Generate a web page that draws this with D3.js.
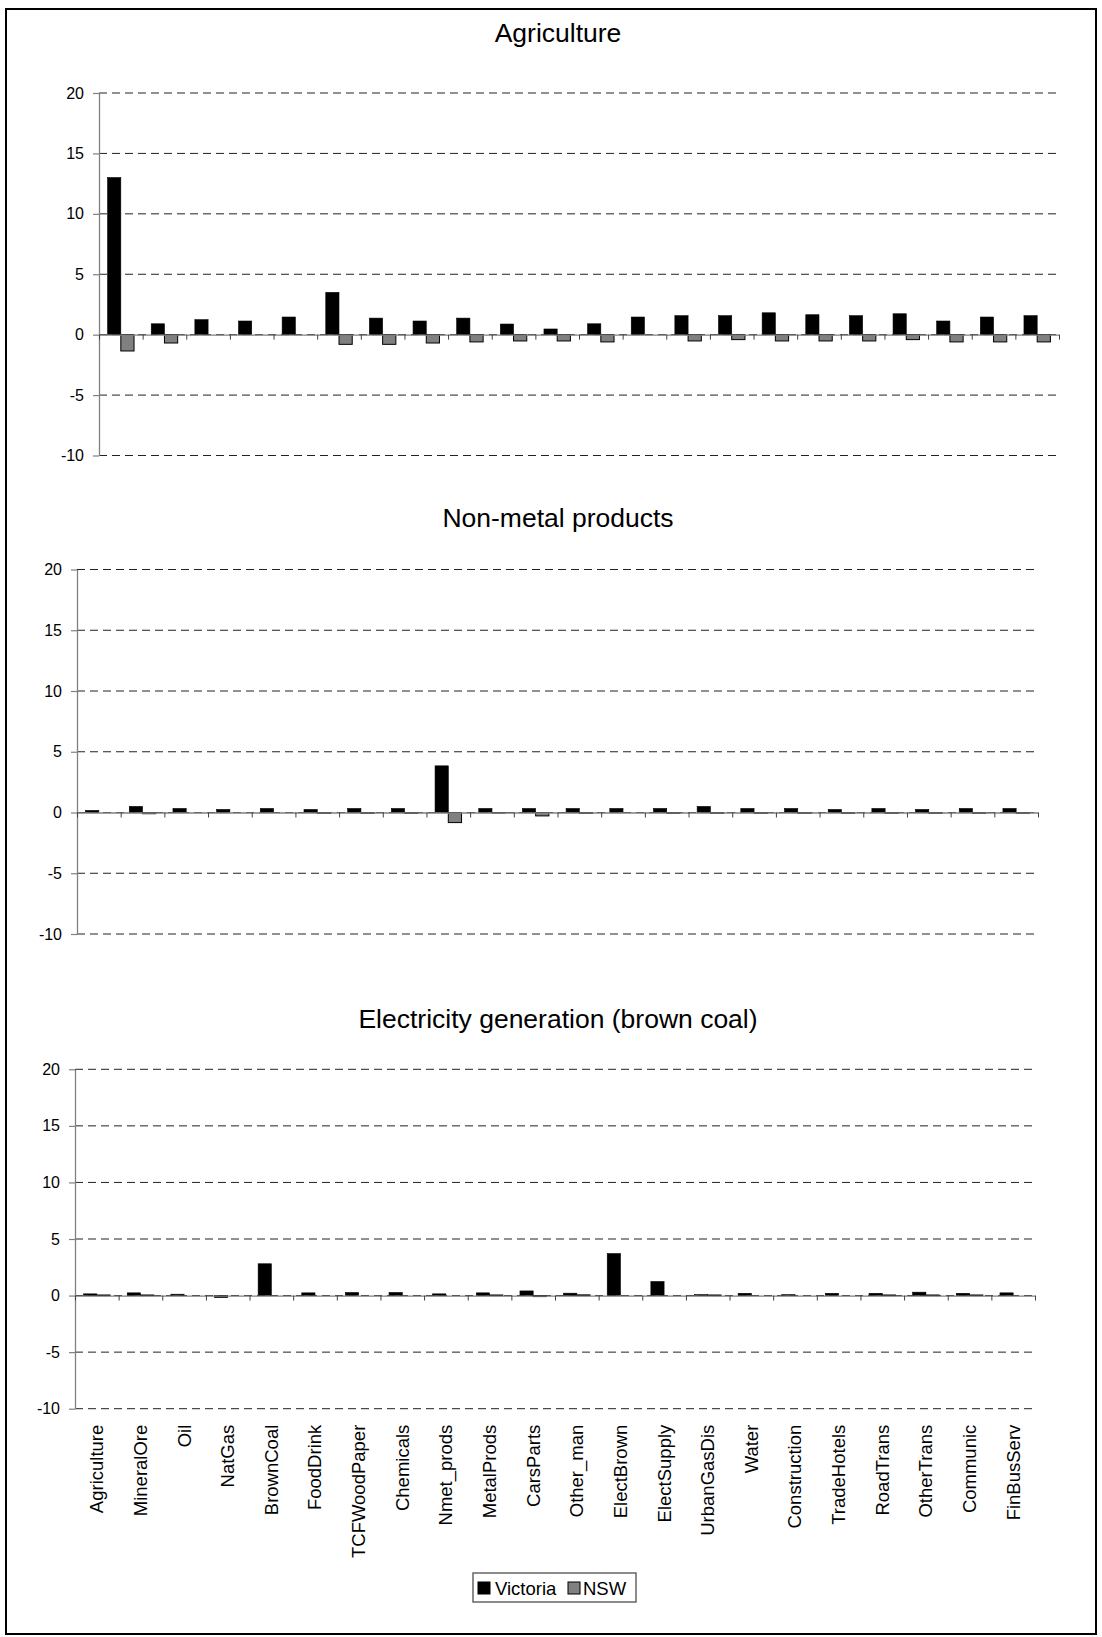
<!DOCTYPE html>
<html><head><meta charset="utf-8">
<script src="https://cdn.jsdelivr.net/npm/d3@7"></script>
<style>
html,body{margin:0;padding:0;background:#fff;}
svg text{font-family:"Liberation Sans",Arial,sans-serif;fill:#000;}
</style></head>
<body>
<svg id="c" width="1102" height="1637"></svg>
<script>
const categories = ["Agriculture","MineralOre","Oil","NatGas","BrownCoal","FoodDrink","TCFWoodPaper","Chemicals","Nmet_prods","MetalProds","CarsParts","Other_man","ElectBrown","ElectSupply","UrbanGasDis","Water","Construction","TradeHotels","RoadTrans","OtherTrans","Communic","FinBusServ"];
const seriesNames = ["Victoria","NSW"];
const titles = ["Agriculture","Non-metal products","Electricity generation (brown coal)"];
const yTicks = [20,15,10,5,0,-5,-10];

const agriVictoria = [13.0,0.9,1.24,1.13,1.46,3.5,1.37,1.13,1.37,0.88,0.47,0.9,1.46,1.57,1.57,1.81,1.65,1.57,1.73,1.13,1.46,1.57];
const agriNSW      = [-1.35,-0.69,0,0,0,-0.8,-0.8,-0.69,-0.6,-0.52,-0.52,-0.6,0,-0.52,-0.41,-0.52,-0.52,-0.52,-0.41,-0.6,-0.6,-0.6];
const nmetVictoria = [0.17,0.5,0.33,0.25,0.33,0.25,0.33,0.33,3.84,0.33,0.33,0.33,0.33,0.33,0.5,0.33,0.33,0.25,0.33,0.25,0.33,0.33];
const nmetNSW      = [0,-0.1,0,0,0,-0.08,-0.08,-0.08,-0.83,-0.05,-0.28,-0.08,0,-0.08,-0.08,-0.08,-0.08,-0.08,-0.08,-0.08,-0.08,-0.08];
const elecVictoria = [0.15,0.24,0.12,-0.18,2.81,0.24,0.27,0.27,0.15,0.24,0.41,0.21,3.71,1.24,0.08,0.2,0.08,0.2,0.2,0.3,0.2,0.24];
const elecNSW      = [0.05,0.05,0,0,0,0,0,0,0,0.05,-0.09,0.06,0,0,0.05,0,0,0,0.05,0.05,0.05,0];

const panels = [
  {title:titles[0], vic:agriVictoria, nsw:agriNSW, x0:99, x1:1059, yTop:93, yBot:455.5, titleY:41.5, labels:false},
  {title:titles[1], vic:nmetVictoria, nsw:nmetNSW, x0:77, x1:1038, yTop:569.5, yBot:934, titleY:527, labels:false},
  {title:titles[2], vic:elecVictoria, nsw:elecNSW, x0:75, x1:1035, yTop:1069.3, yBot:1408.7, titleY:1028, labels:true}
];
const colors = ["#000000","#808080"];

const svg = d3.select("#c");
svg.append("rect").attr("x",6).attr("y",9).attr("width",1090).attr("height",1625)
  .attr("fill","none").attr("stroke","#000").attr("stroke-width",2);

panels.forEach(p=>{
  const g = svg.append("g");
  const y = d3.scaleLinear().domain([-10,20]).range([p.yBot,p.yTop]);
  const x = d3.scaleBand().domain(categories).range([p.x0,p.x1]).paddingInner(0).paddingOuter(0);
  const xb = d3.scaleLinear().domain([0,categories.length]).range([p.x0,p.x1]);
  const step = x.step();
  const bw = step/3.3;
  const off = (step - 2*bw)/2;

  g.append("text").attr("x",558).attr("y",p.titleY).attr("text-anchor","middle")
    .style("font-size","26.5px").text(p.title);

  g.append("g").selectAll("line").data(yTicks).join("line")
    .attr("x1",p.x0).attr("x2",p.x1).attr("y1",d=>y(d)).attr("y2",d=>y(d))
    .attr("stroke","#222").attr("stroke-width",1).attr("stroke-dasharray","8,5");

  const series = [p.vic,p.nsw];
  series.forEach((vals,si)=>{
    g.append("g").selectAll("rect").data(vals).join("rect")
      .attr("x",(d,i)=>x(categories[i])+off+si*bw)
      .attr("width",bw)
      .attr("y",d=>Math.min(y(d),y(0)))
      .attr("height",d=>Math.abs(y(d)-y(0)))
      .attr("fill",colors[si])
      .attr("stroke",d=>d===0?"none":"#000").attr("stroke-width",si===0?0.6:1);
  });

  const ya = g.append("g").attr("transform",`translate(${p.x0},0)`)
    .call(d3.axisLeft(y).tickValues(yTicks).tickFormat(d=>String(d)).tickSize(6).tickSizeOuter(0).tickPadding(9));
  ya.select(".domain").attr("stroke","#808080").attr("stroke-width",1.3);
  ya.selectAll(".tick line").attr("stroke","#808080").attr("stroke-width",1.2);
  ya.selectAll(".tick text").style("font-size","16px").style("font-family","'Liberation Sans',Arial,sans-serif");

  const xa = g.append("g").attr("transform",`translate(0,${y(0)})`)
    .call(d3.axisBottom(xb).tickValues(d3.range(categories.length+1)).tickFormat("").tickSize(5).tickSizeOuter(0));
  xa.select(".domain").attr("stroke","#808080").attr("stroke-width",1.3);
  xa.selectAll(".tick line").attr("stroke","#404040").attr("stroke-width",1);

  if(p.labels){
    g.append("g").selectAll("text").data(categories).join("text")
      .attr("transform",d=>`translate(${x(d)+step/2},${p.yBot+16}) rotate(-90)`)
      .attr("text-anchor","end").attr("dy","0.35em")
      .style("font-size","18.5px").text(d=>d);
  }
});

const lg = svg.append("g");
lg.append("rect").attr("x",473).attr("y",1573).attr("width",163).attr("height",29)
  .attr("fill","#fff").attr("stroke","#666").attr("stroke-width",1.5);
const legX = [478,568];
const legTX = [495,583];
seriesNames.forEach((s,i)=>{
  lg.append("rect").attr("x",legX[i]).attr("y",1582).attr("width",12).attr("height",12)
    .attr("fill",colors[i]).attr("stroke","#000").attr("stroke-width",1);
  lg.append("text").attr("x",legTX[i]).attr("y",1594.5).style("font-size","18.5px").text(s);
});
</script>
</body></html>
